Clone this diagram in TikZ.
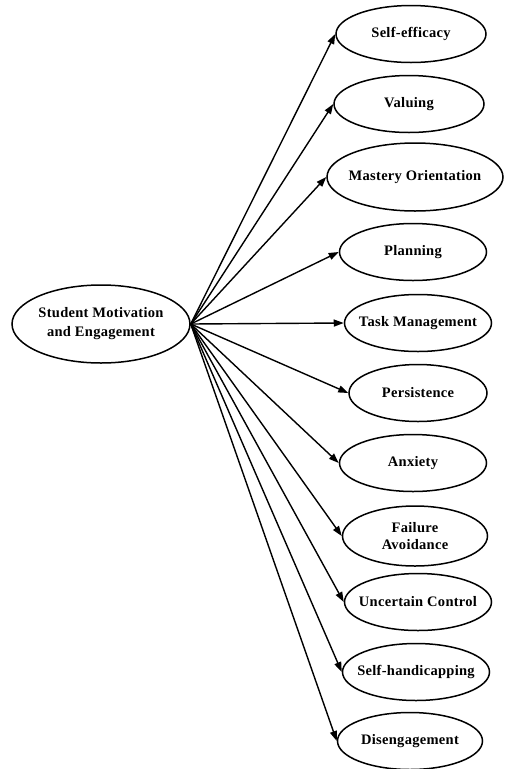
\documentclass[tikz,border=0pt]{standalone}
\usepackage{fontspec}
\setmainfont{Liberation Serif}[LetterSpace=2]
\usetikzlibrary{shapes.geometric,arrows.meta}
\begin{document}
\begin{tikzpicture}[x=1pt,y=-1pt,
  oval/.style={ellipse,draw,line width=1.5pt,inner xsep=-22pt,inner ysep=0pt,minimum width=147pt,minimum height=57pt,
    font=\fontsize{14.5}{18}\selectfont\bfseries,align=center},
  link/.style={line width=1.4pt,-{Triangle[length=10pt,width=7pt]}}]
\useasboundingbox (0,0) rectangle (504,769);
\node[oval,minimum width=178pt,minimum height=78pt] (main) at (101,324) {Student Motivation\\[1pt]and Engagement};
\node[oval,minimum width=150pt] (se) at (411,34) {Self-efficacy};
\node[oval,minimum width=150pt] (va) at (409,104) {Valuing};
\node[oval,minimum width=176pt,minimum height=68pt] (mo) at (415,177) {Mastery Orientation};
\node[oval] (pl) at (413,252) {Planning};
\node[oval] (tm) at (418,323) {Task Management};
\node[oval,minimum width=138pt] (pe) at (418,393) {Persistence};
\node[oval] (an) at (413,463) {Anxiety};
\node[oval,minimum width=145pt,minimum height=60pt] (fa) at (415,536) {Failure\\[-1pt]Avoidance};
\node[oval] (uc) at (418,602) {Uncertain Control};
\node[oval] (sh) at (416,672) {Self-handicapping};
\node[oval,minimum width=145pt] (di) at (410,741) {Disengagement};
\foreach \n in {se,va,mo,pl,tm,pe,an,fa,uc,sh,di}
  \draw[link] (main.east) -- (\n.west);
\end{tikzpicture}
\end{document}
